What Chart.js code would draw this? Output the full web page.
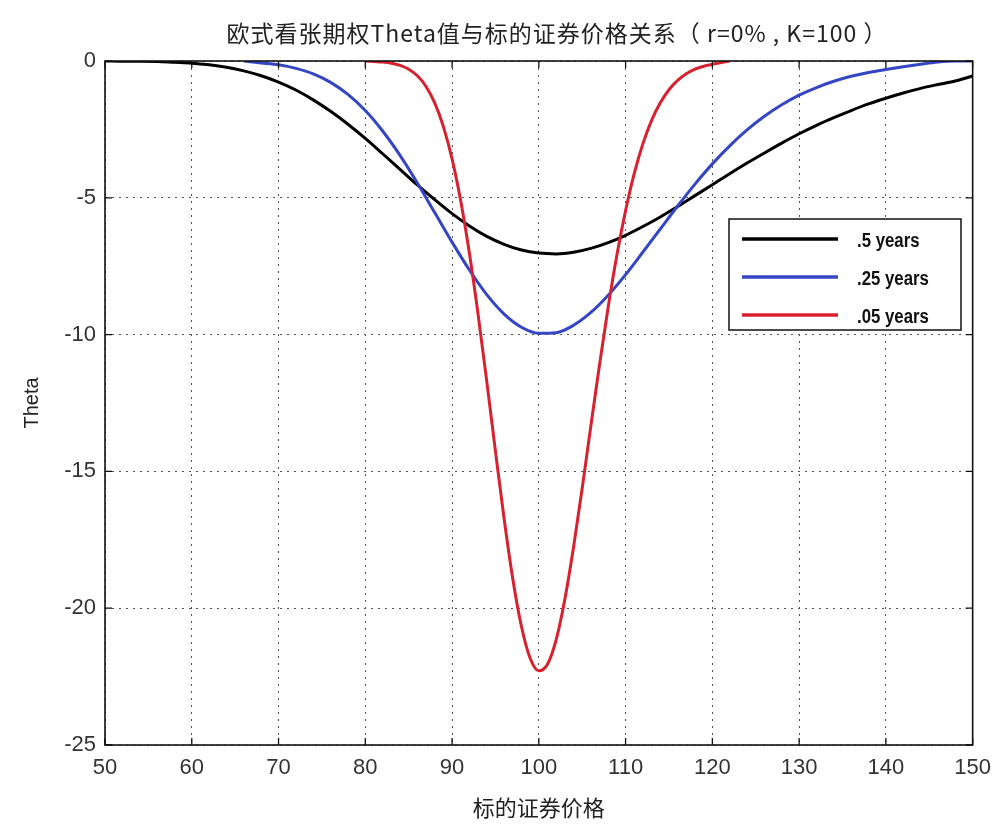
<!DOCTYPE html>
<html>
<head>
<meta charset="utf-8">
<script src="https://cdn.jsdelivr.net/npm/chart.js@4.4.1/dist/chart.umd.min.js"></script>
<style>
  html, body { margin: 0; padding: 0; background: #fff; }
  #wrap { width: 1001px; height: 825px; }
</style>
</head>
<body>
<div id="wrap"><canvas id="thetaChart" width="1001" height="825"></canvas></div>
<script>
// 标的证券价格 (x) and Theta values
const prices = [50,52,54,56,58,60,62,64,66,68,70,72,74,76,78,80,82,84,86,88,90,92,94,96,98,
  100,102,104,106,108,110,112,114,116,118,120,122,124,126,128,130,132,134,136,138,140,142,144,146,148,150];

const theta05 = [0,-0.01,-0.01,-0.02,-0.05,-0.08,-0.14,-0.23,-0.36,-0.54,-0.77,-1.06,-1.42,-1.84,-2.31,-2.83,-3.39,-3.96,-4.53,-5.07,-5.58,-6.03,-6.41,-6.70,-6.91,
  -7.02,-7.05,-6.99,-6.85,-6.64,-6.37,-6.05,-5.70,-5.32,-4.92,-4.52,-4.12,-3.73,-3.36,-3.00,-2.66,-2.35,-2.07,-1.81,-1.57,-1.36,-1.17,-1.00,-0.86,-0.73,-0.55];

const theta025 = [null,null,null,null,null,null,null,null,0,-0.07,-0.14,-0.27,-0.47,-0.78,-1.22,-1.81,-2.56,-3.45,-4.46,-5.54,-6.62,-7.64,-8.54,-9.25,-9.73,
  -9.95,-9.93,-9.66,-9.19,-8.56,-7.81,-6.98,-6.14,-5.30,-4.50,-3.76,-3.10,-2.52,-2.02,-1.60,-1.25,-0.97,-0.74,-0.56,-0.42,-0.31,-0.21,-0.12,-0.04,0,0];

const pricesRed = [80,81,82,83,84,85,86,87,88,89,90,91,92,93,94,95,96,97,98,99,
  100,101,102,103,104,105,106,107,108,109,110,111,112,113,114,115,116,117,118,119,120,122];
const theta005 = [0,-0.02,-0.04,-0.08,-0.16,-0.30,-0.54,-0.93,-1.53,-2.40,-3.58,-5.12,-7.03,-9.26,-11.71,-14.26,-16.73,-18.93,-20.67,-21.83,
  -22.29,-22.05,-21.15,-19.67,-17.77,-15.61,-13.33,-11.09,-8.98,-7.09,-5.47,-4.11,-3.02,-2.17,-1.53,-1.05,-0.71,-0.47,-0.30,-0.19,-0.12,0];

const seriesLabels = ['.5 years', '.25 years', '.05 years'];
const seriesColors = ['#000000', '#3446c4', '#d8212f'];

const xTicks = [50,60,70,80,90,100,110,120,130,140,150];
const yTicks = [0,-5,-10,-15,-20,-25];

const chartTitle = '欧式看张期权Theta值与标的证券价格关系（ r=0% , K=100 ）';

function toPoints(xs, ys) {
  const pts = [];
  xs.forEach((x, i) => { if (ys[i] !== null) pts.push({ x: x, y: ys[i] }); });
  return pts;
}

// title drawn a little right of the canvas centre, like the original
const titlePlugin = {
  id: 'topTitle',
  afterDraw(chart) {
    const ctx = chart.ctx;
    ctx.save();
    ctx.font = '23px "Noto Sans CJK SC", sans-serif';
    ctx.letterSpacing = '1px';
    ctx.fillStyle = '#222';
    ctx.textAlign = 'center';
    ctx.textBaseline = 'middle';
    ctx.fillText(chartTitle, 557, 33);
    ctx.restore();
  }
};

// MATLAB style box with inward ticks
const framePlugin = {
  id: 'frame',
  afterDatasetsDraw(chart) {
    const { ctx, chartArea: a, scales } = chart;
    ctx.save();
    ctx.strokeStyle = '#111';
    ctx.lineWidth = 1.6;
    ctx.strokeRect(a.left, a.top, a.right - a.left, a.bottom - a.top);
    ctx.lineWidth = 1.3;
    ctx.beginPath();
    xTicks.forEach(v => {
      const px = scales.x.getPixelForValue(v);
      ctx.moveTo(px, a.bottom); ctx.lineTo(px, a.bottom - 7);
      ctx.moveTo(px, a.top); ctx.lineTo(px, a.top + 7);
    });
    yTicks.forEach(v => {
      const py = scales.y.getPixelForValue(v);
      ctx.moveTo(a.left, py); ctx.lineTo(a.left + 7, py);
      ctx.moveTo(a.right, py); ctx.lineTo(a.right - 7, py);
    });
    ctx.stroke();
    ctx.restore();
  }
};

// legend box inside the plot, upper right
const legendBox = {
  id: 'legendBox',
  afterDraw(chart) {
    const ctx = chart.ctx;
    const bx = 729, by = 219, bw = 232, bh = 111;
    ctx.save();
    ctx.fillStyle = '#fff';
    ctx.fillRect(bx, by, bw, bh);
    ctx.strokeStyle = '#111';
    ctx.lineWidth = 1.5;
    ctx.strokeRect(bx, by, bw, bh);
    ctx.textBaseline = 'middle';
    ctx.fillStyle = '#111';
    chart.data.datasets.forEach((ds, i) => {
      const y = by + 20 + i * 38;
      ctx.strokeStyle = ds.borderColor;
      ctx.lineWidth = 3.5;
      ctx.beginPath();
      ctx.moveTo(bx + 13, y);
      ctx.lineTo(bx + 109, y);
      ctx.stroke();
      // narrow lettering
      ctx.save();
      ctx.translate(bx + 128, y + 2);
      ctx.scale(0.84, 1);
      ctx.font = 'bold 20px "Liberation Sans", Arial, sans-serif';
      ctx.fillText(ds.label, 0, 0);
      ctx.restore();
    });
    ctx.restore();
  }
};

const tickFont = { family: '"Liberation Sans", Arial, sans-serif', size: 22 };

new Chart(document.getElementById('thetaChart'), {
  type: 'line',
  data: {
    datasets: [
      { label: seriesLabels[0], data: toPoints(prices, theta05), borderColor: seriesColors[0], order: 3 },
      { label: seriesLabels[1], data: toPoints(prices, theta025), borderColor: seriesColors[1], order: 2 },
      { label: seriesLabels[2], data: toPoints(pricesRed, theta005), borderColor: seriesColors[2], order: 1 }
    ]
  },
  options: {
    responsive: false,
    animation: false,
    elements: {
      line: { borderWidth: 3, cubicInterpolationMode: 'monotone', fill: false },
      point: { radius: 0, hoverRadius: 0 }
    },
    layout: { padding: { left: 0, right: 8, top: 61, bottom: 0 } },
    plugins: {
      legend: { display: false },
      tooltip: { enabled: false },
      title: { display: false }
    },
    scales: {
      x: {
        type: 'linear',
        min: 50, max: 150,
        afterBuildTicks: s => { s.ticks = xTicks.map(v => ({ value: v })); },
        afterFit: s => { s.height = 80; },
        grid: { color: '#555', drawTicks: false, lineWidth: 1 },
        border: { display: false, dash: [2, 5] },
        ticks: { color: '#333', font: tickFont, padding: 10, maxRotation: 0 },
        title: {
          display: true,
          text: '标的证券价格',
          color: '#222',
          font: { family: '"Noto Sans CJK SC", sans-serif', size: 22 },
          padding: { top: 0, bottom: 4 }
        }
      },
      y: {
        min: -25, max: 0,
        afterBuildTicks: s => { s.ticks = yTicks.map(v => ({ value: v })); },
        afterFit: s => { s.width = 105; },
        grid: { color: '#555', drawTicks: false, lineWidth: 1 },
        border: { display: false, dash: [2, 5] },
        ticks: { color: '#333', font: tickFont, padding: 9 },
        title: {
          display: true,
          text: 'Theta',
          color: '#222',
          font: { family: '"Liberation Sans", Arial, sans-serif', size: 20 },
          padding: { top: 20, bottom: 0 }
        }
      }
    }
  },
  plugins: [framePlugin, legendBox, titlePlugin]
});
</script>
</body>
</html>
